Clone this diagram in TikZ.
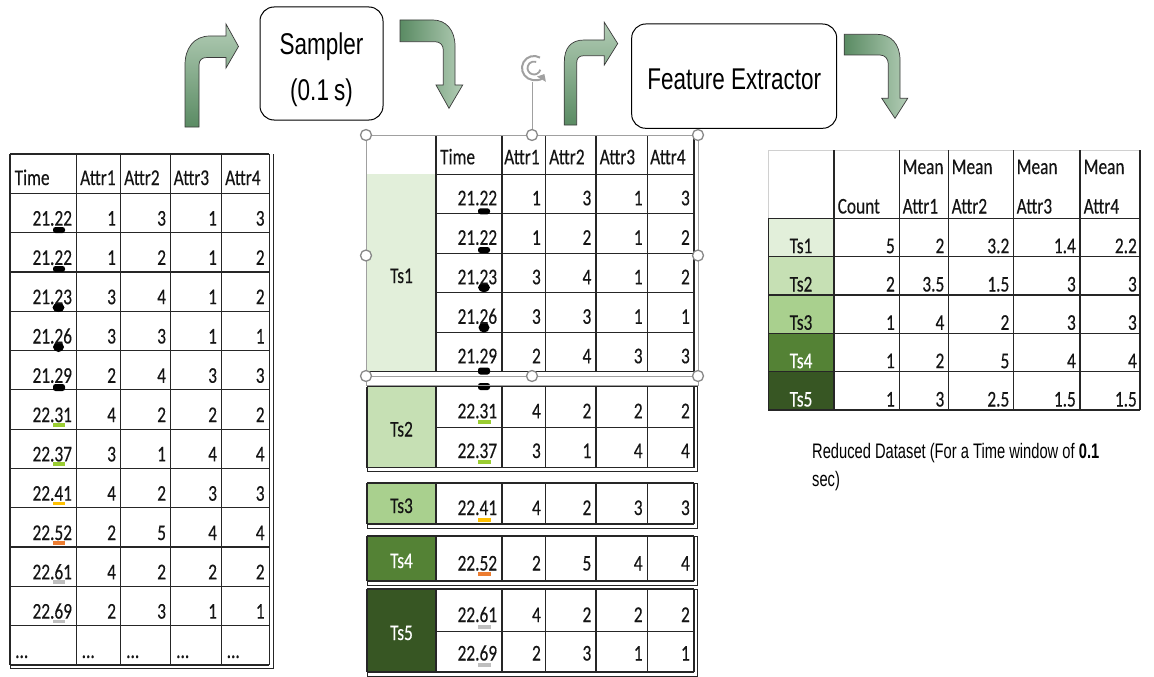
\documentclass[tikz,border=0pt]{standalone}
\usepackage{fontspec}
\setmainfont{Carlito}[FakeStretch=0.77, FakeBold=0.25]
\newfontfamily\boxfont{Liberation Sans}[FakeStretch=0.75]
\newfontfamily\capfont{Liberation Sans}[FakeStretch=0.7]
\usetikzlibrary{arrows.meta}

\definecolor{tsA}{HTML}{E2EFDA}
\definecolor{tsB}{HTML}{C6E0B4}
\definecolor{tsC}{HTML}{A9D08E}
\definecolor{tsD}{HTML}{548235}
\definecolor{tsE}{HTML}{375623}
\definecolor{gridc}{HTML}{262626}
\definecolor{gridg}{HTML}{D0D0D0}
\definecolor{txt}{HTML}{141414}
\definecolor{selc}{HTML}{A0A0A0}
\definecolor{arrdark}{HTML}{5A8B63}
\definecolor{arrlight}{HTML}{B2CCB5}
\definecolor{arrline}{HTML}{3A3A3A}
\definecolor{mkLime}{HTML}{9ACD32}
\definecolor{mkGold}{HTML}{FFC000}
\definecolor{mkOrange}{HTML}{ED7D31}
\definecolor{mkGrey}{HTML}{BFBFBF}

\newcommand\tabfont{\fontsize{22.5}{26}\selectfont}

\tikzset{
  tline/.style={draw=gridc, line width=1.2pt},
  tlight/.style={draw=gridg, line width=1pt},
  numcell/.style={anchor=base east, inner sep=0pt, font=\tabfont, text=txt},
  hdrcell/.style={anchor=base west, inner sep=0pt, font=\tabfont, text=txt},
  tslab/.style={anchor=base, inner sep=0pt, font=\tabfont, text=txt},
  selframe/.style={draw=selc, line width=1pt},
  selh/.style={circle, draw=selc!85!black, fill=white, line width=1.3pt, minimum size=11pt, inner sep=0pt},
  bentarrow/.style={draw=arrline, line width=0.7pt},
  procbox/.style={draw=black, line width=1pt, rounded corners=14pt, fill=white},
  boxtext/.style={anchor=base, inner sep=0pt, font=\boxfont\fontsize{30}{36}\selectfont, text=black},
  captext/.style={anchor=base west, inner sep=0pt, font=\capfont\fontsize{21}{25}\selectfont, text=black},
}

\begin{document}
\begin{tikzpicture}[x=1pt,y=-1pt]
\useasboundingbox (0,0) rectangle (1154,677);
\fill[white] (0,0) rectangle (1154,677);

% ---------- process boxes ----------
\draw[procbox] (260,7) rectangle (383,120);
\node[boxtext] (samp1) at (321.5,55) {Sampler};
\node[boxtext] (samp2) at (321.5,100) {(0.1\,s)};
\draw[procbox] (631.7,24) rectangle (836.7,128.3);
\node[boxtext] (fext) at (734.2,89.5) {Feature Extractor};

% ---------- bent arrows ----------
\path[bentarrow, shade, bottom color=arrdark, top color=arrlight]
  (185,127) -- (185,65) .. controls (185,48) and (194,36) .. (210,36)
  -- (226,36) -- (226,24) -- (238.5,46.5) -- (226,68) -- (226,57.5) -- (207,57.5)
  .. controls (202,57.5) and (199,60) .. (199,65) -- (199,127) -- cycle;
\path[bentarrow, shade, left color=arrdark, right color=arrlight]
  (400,20) -- (433,20) .. controls (446,20) and (455,30) .. (455,46)
  -- (455,85) -- (462.7,85) -- (449,108.3) -- (436,85) -- (443.3,85) -- (443.3,50)
  .. controls (443.3,45) and (440,41.7) .. (435,41.7) -- (400,41.7) -- cycle;
\path[bentarrow, shade, bottom color=arrdark, top color=arrlight]
  (564.3,125) -- (564.3,62) .. controls (564.3,48) and (571,40) .. (584,40)
  -- (604.3,40) -- (604.3,22.3) -- (617.7,43.6) -- (604.3,65) -- (604.3,55.7) -- (584,55.7)
  .. controls (579,55.7) and (576.7,58) .. (576.7,63) -- (576.7,125) -- cycle;
\path[bentarrow, shade, left color=arrdark, right color=arrlight]
  (844.3,34.3) -- (877,34.3) .. controls (891,34.3) and (900,44) .. (900,60)
  -- (900,98.3) -- (907.7,98.3) -- (895,118.3) -- (881.7,98.3) -- (888.3,98.3) -- (888.3,64)
  .. controls (888.3,59) and (885,55) .. (880,55) -- (844.3,55) -- cycle;

% ---------- left table: raw readings ----------
\foreach \x in {10,76.7,120.7,170.7,221.7,269.3}
  \draw[tline] (\x,154) -- (\x,664.9);
\draw[tline] (10,154) -- (269.3,154);
\foreach \i in {0,...,12}
  \draw[tline] (10,{193.3+39.3*\i}) -- (269.3,{193.3+39.3*\i});
\draw[tline, line width=0.8pt] (273,154) -- (273,668.5) -- (10,668.5) -- (10,664.9);

\node[hdrcell] (L-h0) at (14.5,185) {Time};
\node[hdrcell] (L-h1) at (80,185) {Attr1};
\node[hdrcell] (L-h2) at (124,185) {Attr2};
\node[hdrcell] (L-h3) at (173.5,185) {Attr3};
\node[hdrcell] (L-h4) at (225,185) {Attr4};

% sample markers under the time stamps
\fill[black, rounded corners=2.5pt] (53,227) rectangle (65,233);
\fill[black, rounded corners=2.5pt] (53,266) rectangle (65,272);
\fill[black] (58.5,307.5) ellipse [x radius=6, y radius=4.5];
\fill[black] (58.5,347) ellipse [x radius=5.5, y radius=5];
\fill[black, rounded corners=2.5pt] (53,384) rectangle (65,391);
\foreach \yb/\mc in {429.1/mkLime, 468.4/mkLime, 507.7/mkGold, 547/mkOrange, 586.3/mkGrey, 625.6/mkGrey}
  \fill[\mc] (53,\yb-6) rectangle (65,\yb-2.5);

\foreach \tm/\va/\vb/\vc/\vd [count=\i] in
  {21.22/1/3/1/3, 21.22/1/2/1/2, 21.23/3/4/1/2, 21.26/3/3/1/1, 21.29/2/4/3/3,
   22.31/4/2/2/2, 22.37/3/1/4/4, 22.41/4/2/3/3, 22.52/2/5/4/4, 22.61/4/2/2/2, 22.69/2/3/1/1}{
  \pgfmathsetmacro\yb{193.3+39.3*\i-7}
  \node[numcell] (L-\i-0) at (72.2,\yb) {\tm};
  \node[numcell] (L-\i-1) at (116.2,\yb) {\va};
  \node[numcell] (L-\i-2) at (166.2,\yb) {\vb};
  \node[numcell] (L-\i-3) at (217.2,\yb) {\vc};
  \node[numcell] (L-\i-4) at (264.8,\yb) {\vd};
}
\foreach \x [count=\j] in {15,81.5,126,176,226.5}
  \node[hdrcell] (L-12-\j) at (\x,658) {...};

% ---------- middle table: readings grouped per time slot ----------
% Ts1 block
\fill[tsA] (367,174.3) rectangle (436,371.8);
\foreach \x in {436,502,545.7,596,647.3,694}
  \draw[tline] (\x,135) -- (\x,371.8);
\foreach \i in {0,...,4}
  \draw[tline] (436,{174.3+39.5*\i}) -- (694,{174.3+39.5*\i});
\draw[tline] (367,371.8) -- (694,371.8);

% Ts2..Ts5 blocks
\foreach \tp/\bt/\fc in {386.7/467.5/tsB, 483/524/tsC, 536/581/tsD, 589/672/tsE}{
  \fill[\fc] (367,\tp) rectangle (436,\bt);
  \foreach \x in {367,436,502,545.7,596,647.3,694}
    \draw[tline] (\x,\tp) -- (\x,\bt);
  \draw[tline] (367,\tp) -- (694,\tp);
  \draw[tline] (367,\bt) -- (694,\bt);
  \draw[tline, line width=0.8pt] (367,\tp) -- (697.5,\tp) -- (697.5,\bt+4) -- (367,\bt+4) -- (367,\bt);
}
\draw[tline] (436,427.3) -- (694,427.3);
\draw[tline] (436,631.7) -- (694,631.7);
\foreach \x in {367,436,502,545.7,596,647.3,697.5}
  \draw[tline, line width=0.8pt] (\x,676) -- (\x,678);

\node[hdrcell] (M-h0) at (440,164.3) {Time};
\node[hdrcell] (M-h1) at (504,164.3) {Attr1};
\node[hdrcell] (M-h2) at (549,164.3) {Attr2};
\node[hdrcell] (M-h3) at (599.5,164.3) {Attr3};
\node[hdrcell] (M-h4) at (650,164.3) {Attr4};

\node[tslab] (M-ts1) at (401.5,283) {Ts1};
\node[tslab] (M-ts2) at (401.5,436.5) {Ts2};
\node[tslab] (M-ts3) at (401.5,513) {Ts3};
\node[tslab, text=white] (M-ts4) at (401.5,568) {Ts4};
\node[tslab, text=white] (M-ts5) at (401.5,640) {Ts5};

% sample markers
\fill[black, rounded corners=2.5pt] (478,208.3) rectangle (490,214.3);
\fill[black, rounded corners=2.5pt] (478,247) rectangle (490,253);
\fill[black] (484,287.5) ellipse [x radius=6, y radius=4.5];
\fill[black] (484,327.5) ellipse [x radius=5.5, y radius=5];
\fill[black, rounded corners=2.5pt] (478,367.5) rectangle (490,374.5);
\fill[black, rounded corners=2.5pt] (478,383) rectangle (490,390);
\foreach \ya/\mc in {420/mkLime, 460/mkLime, 518.3/mkGold, 571.7/mkOrange, 625/mkGrey, 663.3/mkGrey}
  \fill[\mc] (478,\ya) rectangle (491,\ya+3.8);

\foreach \tm/\va/\vb/\vc/\vd/\yb [count=\i] in
  {21.22/1/3/1/3/205.3, 21.22/1/2/1/2/244.8, 21.23/3/4/1/2/284.3, 21.26/3/3/1/1/323.8, 21.29/2/4/3/3/363.3,
   22.31/4/2/2/2/418.3, 22.37/3/1/4/4/458, 22.41/4/2/3/3/515, 22.52/2/5/4/4/570.5,
   22.61/4/2/2/2/622, 22.69/2/3/1/1/660.5}{
  \node[numcell] (M-\i-0) at (497.3,\yb) {\tm};
  \node[numcell] (M-\i-1) at (541,\yb) {\va};
  \node[numcell] (M-\i-2) at (591.5,\yb) {\vb};
  \node[numcell] (M-\i-3) at (642.8,\yb) {\vc};
  \node[numcell] (M-\i-4) at (690,\yb) {\vd};
}

% selection frame with its handles
\draw[selframe] (366,135) rectangle (698,376);
\draw[selframe] (366,376) rectangle (698,385);
\node[selh] (hA) at (366,135) {};
\node[selh] (hB) at (532,135) {};
\node[selh] (hC) at (698,135) {};
\node[selh] (hD) at (366,255.5) {};
\node[selh] (hE) at (698,255.5) {};
\node[selh] (hF) at (366,376) {};
\node[selh] (hG) at (532,376) {};
\node[selh] (hH) at (698,376) {};
\coordinate (rot) at (534,68);
\draw[selframe] (hB.north) -- (532,82);
\draw[draw=selc, line width=2pt, {Triangle[width=10pt,length=6pt]}-]
  (rot) ++(30:12) arc[start angle=30, end angle=300, radius=12];
\draw[draw=selc, line width=1.8pt]
  (rot) ++(15:6.5) arc[start angle=15, end angle=290, radius=6.5];

% ---------- right table: reduced dataset ----------
\foreach \ytop/\ybot/\fc in {218.3/256.7/tsA, 256.7/295/tsB, 295/333.3/tsC, 333.3/371.7/tsD, 371.7/410/tsE}
  \fill[\fc] (768.3,\ytop) rectangle (834,\ybot);
\draw[tlight] (768.3,150) -- (1140,150);
\draw[tlight] (768.3,150) -- (768.3,218.3);
\foreach \x in {834,899.3,948.3,1013.3,1080,1140}
  \draw[tline] (\x,150) -- (\x,410);
\draw[tline] (768.3,218.3) -- (768.3,410);
\foreach \y in {218.3,256.7,295,333.3,371.7,410}
  \draw[tline] (768.3,\y) -- (1140,\y);

\node[hdrcell] (R-h0) at (837.5,213.5) {Count};
\foreach \x [count=\j] in {902.5,951.5,1016.5,1083.5}{
  \node[hdrcell] (R-m\j) at (\x,174) {Mean};
  \node[hdrcell] (R-a\j) at (\x,213.5) {Attr\j};
}

\foreach \cn/\va/\vb/\vc/\vd/\yb/\tc [count=\i] in
  {5/2/3.2/1.4/2.2/253.2/txt, 2/3.5/1.5/3/3/291.5/txt, 1/4/2/3/3/329.8/txt,
   1/2/5/4/4/368.2/white, 1/3/2.5/1.5/1.5/406.5/white}{
  \node[tslab, text=\tc] (R-\i-t) at (801,\yb) {Ts\i};
  \node[numcell] (R-\i-0) at (895,\yb) {\cn};
  \node[numcell] (R-\i-1) at (944.5,\yb) {\va};
  \node[numcell] (R-\i-2) at (1009.5,\yb) {\vb};
  \node[numcell] (R-\i-3) at (1076,\yb) {\vc};
  \node[numcell] (R-\i-4) at (1137,\yb) {\vd};
}

\node[captext] (cap1) at (812,458) {Reduced Dataset (For a Time window of \textbf{0.1}};
\node[captext] (cap2) at (812,486) {sec)};
\end{tikzpicture}
\end{document}
